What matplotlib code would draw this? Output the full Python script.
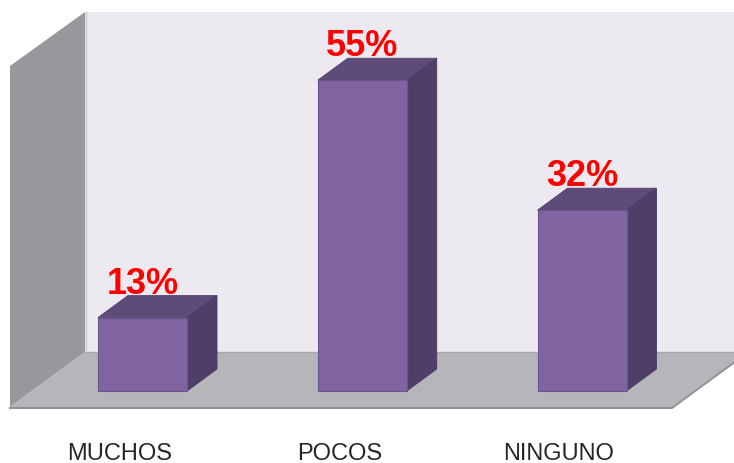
import matplotlib
matplotlib.use("Agg")
import matplotlib.pyplot as plt
from matplotlib.patches import Polygon

categories = ["MUCHOS", "POCOS", "NINGUNO"]
values = [13, 55, 32]
value_labels = ["13%", "55%", "32%"]

W, H = 734, 464
fig = plt.figure(figsize=(W / 100, H / 100), dpi=100)
ax = fig.add_axes([0, 0, 1, 1])

S = 5.65      # pixels per percent
Y0 = 392      # pixel row of bar base
ax.set_xlim(0, W)
ax.set_ylim((Y0 - H) / S, Y0 / S)
ax.axis("off")


def Y(p):
    return (Y0 - p) / S


def poly(pts, fc, ec="none", lw=0, z=1):
    ax.add_patch(Polygon([(x, Y(y)) for x, y in pts], closed=True,
                         facecolor=fc, edgecolor=ec, linewidth=lw, zorder=z))


# walls & floor
poly([(85, 13), (760, 13), (760, 353), (85, 353)], "#ECEAF0", z=1)
poly([(10, 67), (85, 13), (85, 353), (10, 408)], "#98979C", z=2)
ax.plot([85.5, 85.5], [Y(13), Y(353)], color="#C9C8CD", lw=1.0, zorder=2.5)
poly([(10, 408), (85, 353), (747, 353), (672, 408)], "#B6B5B9", z=2)
ax.plot([85, 760], [Y(353), Y(353)], color="#A6A5AA", lw=1.0, zorder=2.6)
ax.plot([10, 672, 747], [Y(409), Y(409), Y(354)], color="#8E8D92", lw=1.4, zorder=2.6)

# bars
dx, dy = 30, 22
dyv = dy / S
w = 89
xs = [142.5 + i * 219.75 for i in range(len(values))]
ax.bar(xs, values, width=w, bottom=0, color="#8064A2", edgecolor="#6B5390",
       linewidth=0.8, zorder=5)
for x, v in zip(xs, values):
    l, r = x - w / 2, x + w / 2
    ax.add_patch(Polygon([(l, v), (l + dx, v + dyv), (r + dx, v + dyv), (r, v)],
                         facecolor="#5F4B7A", edgecolor="#54426E", lw=0.6, zorder=4))
    ax.add_patch(Polygon([(r, 0), (r + dx, dyv), (r + dx, v + dyv), (r, v)],
                         facecolor="#4F3F68", edgecolor="#4A3B62", lw=0.6, zorder=4))

# value labels
for x, v, t in zip(xs, values, value_labels):
    ax.text(x, v + 25 / S, t, ha="center", va="baseline", color="#FF0000",
            fontsize=26, fontweight="bold", family="Liberation Sans", zorder=6)

# category labels
for x, c in zip(xs, categories):
    ax.text(x - 23, Y(460), c, ha="center", va="baseline", color="#262626",
            fontsize=17, family="Liberation Sans", zorder=6)

fig.savefig("out.png", dpi=100, facecolor="white")
